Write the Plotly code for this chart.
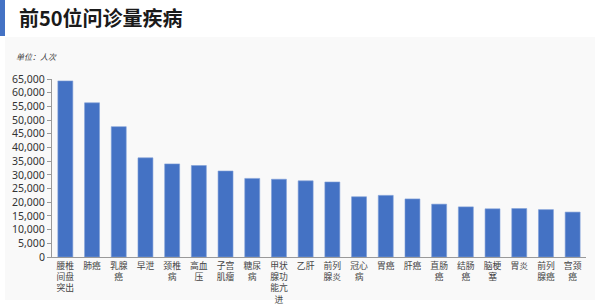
import plotly.graph_objects as go

categories = ["腰椎间盘突出", "肺癌", "乳腺癌", "早泄", "颈椎病", "高血压", "子宫肌瘤", "糖尿病",
              "甲状腺功能亢进", "乙肝", "前列腺炎", "冠心病", "胃癌", "肝癌", "直肠癌", "结肠癌",
              "脑梗塞", "胃炎", "前列腺癌", "宫颈癌"]
visits = [64300, 56300, 47600, 36200, 34000, 33400, 31400, 28700, 28400, 27800,
          27400, 22000, 22500, 21200, 19300, 18300, 17600, 17700, 17300, 16400]
y_ticks = list(range(0, 65001, 5000))

def wrap(s, n=2):
    return "<br>".join(s[i:i + n] for i in range(0, len(s), n))

W, H = 600, 306
L, R, T, B = 52, 14, 79, 49

fig = go.Figure(go.Bar(
    x=categories, y=visits,
    marker=dict(color="#4472c4", line=dict(color="#7f9fd8", width=0.6)),
    width=0.56,
))

pw, ph = W - L - R, H - T - B
def px(x):
    return (x - L) / pw
def py(y):
    return (H - B - y) / ph

fig.update_layout(
    width=W, height=H,
    margin=dict(l=L, r=R, t=T, b=B, autoexpand=False),
    paper_bgcolor="white",
    plot_bgcolor="rgba(0,0,0,0)",
    showlegend=False,
    font=dict(family="Noto Sans CJK SC, sans-serif", color="#333"),
    shapes=[
        dict(type="rect", xref="paper", yref="paper", layer="below",
             x0=px(5), x1=px(595), y0=py(300), y1=py(37),
             fillcolor="#f9f9f9", line=dict(width=0)),
        dict(type="rect", xref="paper", yref="paper",
             x0=px(0), x1=px(5), y0=py(36), y1=py(0),
             fillcolor="#4472c4", line=dict(width=0)),
    ],
    annotations=[
        dict(text="<b>前50位问诊量疾病</b>", xref="paper", yref="paper",
             x=px(17), y=py(18), xanchor="left", yanchor="middle", showarrow=False,
             font=dict(size=20, color="#1a1a1a", family="Noto Sans CJK SC")),
        dict(text="<i>单位：人次</i>", xref="paper", yref="paper",
             x=px(14), y=py(57), xanchor="left", yanchor="middle", showarrow=False,
             font=dict(size=8, color="#444", family="Noto Sans CJK SC")),
    ],
)
fig.update_yaxes(
    range=[0, 65000], tickvals=y_ticks, tickformat=",", automargin=False,
    showgrid=False, showline=True, linecolor="#999", linewidth=1,
    ticks="outside", ticklen=4, tickcolor="#999",
    tickfont=dict(size=10.5, color="#333", family="Noto Sans, sans-serif"),
    zeroline=False,
)
fig.update_xaxes(
    tickvals=categories, ticktext=[wrap(c) for c in categories], automargin=False,
    showgrid=False, showline=True, linecolor="#999", linewidth=1,
    ticks="", tickfont=dict(size=8.8, color="#444", family="Noto Sans CJK SC"),
)

fig.write_html("out.html")
